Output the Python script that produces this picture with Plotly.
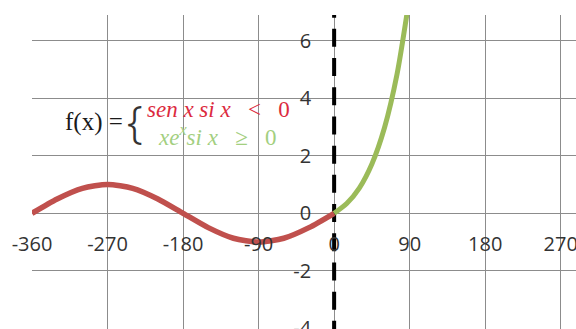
import plotly.graph_objects as go

# Piecewise function: sin(x) for x < 0, x*e^x for x >= 0 (x in degrees on the axis)
sin_x = [-360, -330, -300, -270, -240, -210, -180, -150, -120, -90, -60, -30, 0]
sin_y = [0.0, 0.5, 0.87, 1.0, 0.87, 0.5, 0.0, -0.5, -0.87, -1.0, -0.87, -0.5, 0.0]

exp_x = [0, 15, 30, 45, 60, 75, 90]
exp_y = [0.0, 0.34, 0.88, 1.72, 2.98, 4.85, 7.56]

# Dashed boundary at x = 0
boundary_x = [0, 0]
boundary_y = [7.44, -6.0]

x_ticks = [-360, -270, -180, -90, 0, 90, 180, 270]
y_ticks = [-4, -2, 0, 2, 4, 6]

X_RANGE = [-360, 288.2]
Y_RANGE = [-4.03, 6.905]

RED = "#C0504D"
GREEN = "#9BBB59"
GRID = "#8C8C8C"
TICK_FONT = dict(family="Open Sans", size=20, color="#333333")

fig = go.Figure()

fig.add_trace(go.Scatter(
    x=boundary_x, y=boundary_y, mode="lines",
    line=dict(color="black", width=4, dash="18px,11.2px"),
    hoverinfo="skip", showlegend=False,
))
fig.add_trace(go.Scatter(
    x=sin_x, y=sin_y, mode="lines",
    line=dict(color=RED, width=5.5, shape="spline", smoothing=0.7),
    showlegend=False,
))
fig.add_trace(go.Scatter(
    x=exp_x, y=exp_y, mode="lines",
    line=dict(color=GREEN, width=5, shape="spline", smoothing=0.7),
    showlegend=False,
))

x_pos = (0 - Y_RANGE[0]) / (Y_RANGE[1] - Y_RANGE[0])
y_pos = (0 - X_RANGE[0]) / (X_RANGE[1] - X_RANGE[0])

fig.update_xaxes(
    range=X_RANGE, tickvals=x_ticks, ticktext=[str(v) for v in x_ticks],
    showgrid=True, gridcolor=GRID, gridwidth=1, zeroline=False, showline=False,
    ticks="", tickfont=TICK_FONT, anchor="free", position=x_pos,
    ticklabelstandoff=17, ticklabeloverflow="allow", automargin=False,
    fixedrange=True,
)
fig.update_yaxes(
    range=Y_RANGE, tickvals=y_ticks, ticktext=[str(v) for v in y_ticks],
    showgrid=True, gridcolor=GRID, gridwidth=1, zeroline=False, showline=False,
    ticks="", tickfont=TICK_FONT, anchor="free", position=y_pos,
    ticklabelstandoff=23, ticklabeloverflow="allow", automargin=False,
    fixedrange=True,
)

serif = "Liberation Serif"
fig.add_annotation(
    x=-323, y=3.18, xref="x", yref="y", xanchor="left", yanchor="middle",
    text="f(x) =", showarrow=False, font=dict(family=serif, size=25, color="#1a1a1a"),
)
fig.add_annotation(
    x=-237.5, y=3.2, xref="x", yref="y", xanchor="center", yanchor="middle",
    text="{", showarrow=False,
    font=dict(family="Noto Sans", size=44, weight=300, color="#333333"),
)
fig.add_annotation(
    x=-225.3, y=3.6, xref="x", yref="y", xanchor="left", yanchor="middle",
    text="<i>sen x si x</i>   <   0", showarrow=False,
    font=dict(family=serif, size=23, color="#DC2A3E"),
)
fig.add_annotation(
    x=-212.2, y=2.72, xref="x", yref="y", xanchor="left", yanchor="middle",
    text="<i>xe<sup>x</sup>si x</i>   ≥   0", showarrow=False,
    font=dict(family=serif, size=23, color="#A3CF7F"),
)

fig.update_layout(
    width=576, height=329,
    margin=dict(l=32, r=0, t=15, b=0),
    paper_bgcolor="white", plot_bgcolor="white",
    showlegend=False,
)

fig.write_html("out.html")
